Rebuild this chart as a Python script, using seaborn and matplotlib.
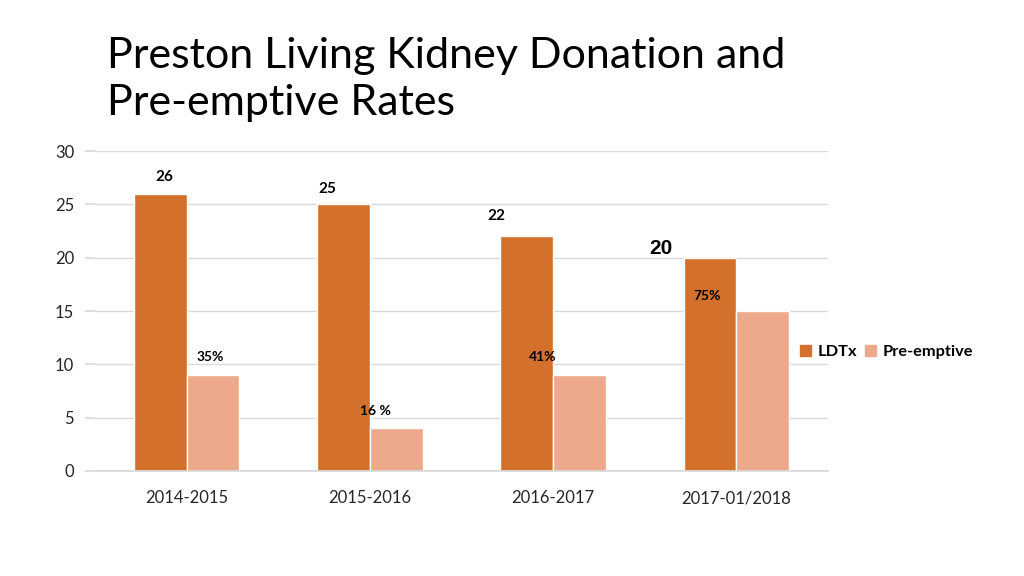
import pandas as pd
import numpy as np
import matplotlib.pyplot as plt
import seaborn as sns

# data
periods = ["2014-2015", "2015-2016", "2016-2017", "2017-01/2018"]
ldtx = [26, 25, 22, 20]
pre_emptive = [9, 4, 9, 15]

# label text and where it sits (data coords)
count_labels = ["26", "25", "22", "20"]
count_x = [-0.12, 0.77, 1.69, 2.59]
count_y = [27.6, 26.4, 23.9, 20.9]
pct_labels = ["35%", "16 %", "41%", "75%"]
pct_x = [0.13, 1.03, 1.94, 2.84]
pct_y = [10.7, 5.6, 10.7, 16.4]

df = pd.DataFrame({
    "period": periods * 2,
    "value": ldtx + pre_emptive,
    "series": ["LDTx"] * len(periods) + ["Pre-emptive"] * len(periods),
})

sns.set_theme(style="white")
plt.rcParams["font.family"] = ["Lato", "DejaVu Sans"]
plt.rcParams["text.color"] = "black"
plt.rcParams["xtick.color"] = "#262626"
plt.rcParams["ytick.color"] = "#262626"

fig = plt.figure(figsize=(10.24, 5.76), dpi=100)
ax = fig.add_axes([0.0928, 0.1823, 0.7158, 0.5555])

palette = {"LDTx": "#D2702C", "Pre-emptive": "#EDA98C"}
sns.barplot(data=df, x="period", y="value", hue="series", palette=palette,
            width=0.575, saturation=1, ax=ax, legend=False)

ax.set_xlim(-0.5, 3.5)
ax.set_ylim(0, 30)
ax.set_yticks(range(0, 31, 5))
ax.yaxis.grid(True, color="#D9D9D9", linewidth=1)
ax.set_axisbelow(True)
ax.set_xlabel("")
ax.set_ylabel("")

for side in ["top", "right", "left"]:
    ax.spines[side].set_visible(False)
ax.spines["bottom"].set_color("#D9D9D9")

# category separators as ticks, labels on minor ticks at centres
ax.set_xticks(np.arange(-0.5, 4, 1))
ax.set_xticklabels([])
ax.set_xticks(range(len(periods)), minor=True)
ax.set_xticklabels(periods, minor=True, fontsize=12)
ax.tick_params(axis="x", which="major", length=7, color="#D9D9D9", direction="out")
ax.tick_params(axis="x", which="minor", length=0, pad=14)
ax.tick_params(axis="y", length=7, color="#D9D9D9", labelcolor="#262626", labelsize=12, pad=8)
ax.tick_params(axis="y", which="both", left=True)

for txt, x, y in zip(count_labels, count_x, count_y):
    if txt == "20":
        ax.text(x, y, txt, ha="center", va="center", fontsize=15,
                fontweight="bold", family=["Liberation Sans", "DejaVu Sans"])
    else:
        ax.text(x, y, txt, ha="center", va="center", fontsize=11, fontweight="bold")
for txt, x, y in zip(pct_labels, pct_x, pct_y):
    ax.text(x, y, txt, ha="center", va="center", fontsize=10, fontweight="bold")

handles = [plt.Rectangle((0, 0), 1, 1, color=palette[s]) for s in palette]
fig.legend(handles, list(palette), loc="center left", bbox_to_anchor=(0.767, 0.389),
           ncol=2, frameon=False, handlelength=0.65, handleheight=0.65,
           handletextpad=0.4, columnspacing=0.5, prop={"weight": "bold", "size": 11.8})

fig.text(0.1045, 0.936, "Preston Living Kidney Donation and\nPre-emptive Rates",
         fontsize=31, ha="left", va="top", linespacing=1.3)

fig.savefig("out.png", dpi=100)
